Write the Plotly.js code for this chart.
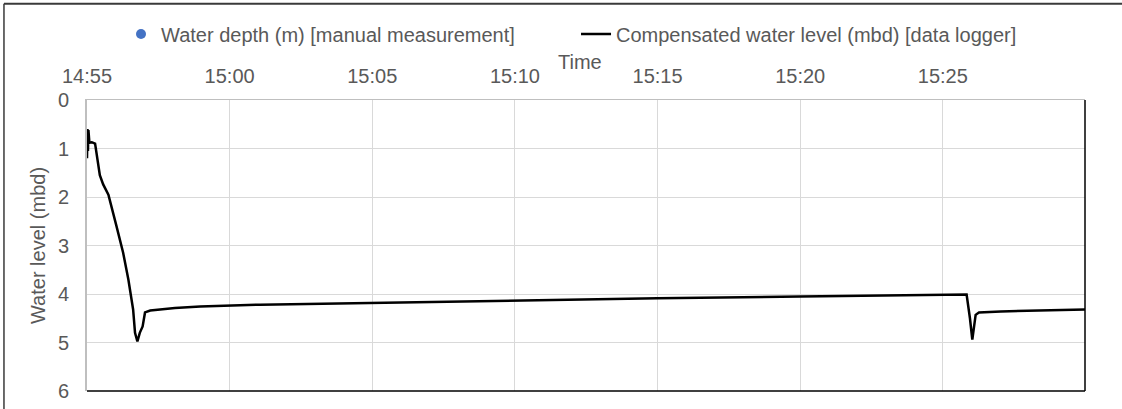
<!DOCTYPE html>
<html>
<head>
<meta charset="utf-8">
<script src="https://cdn.plot.ly/plotly-3.0.1.min.js"></script>
<style>html,body{margin:0;padding:0;background:#fff;}#chart{width:1122px;height:409px;}</style>
</head>
<body>
<div id="chart"></div>
<script>
var day = '2024-01-01 ';
var loggerTimes = ['14:55:00','14:55:01','14:55:02','14:55:03','14:55:05','14:55:10','14:55:17','14:55:27','14:55:34','14:55:45','14:56:02','14:56:16','14:56:27','14:56:37','14:56:41','14:56:46','14:56:51','14:56:57','14:57:02','14:57:13','14:58:05','14:58:58','15:01:04','15:05:00','15:10:00','15:15:00','15:20:00','15:25:00','15:25:50','15:25:57','15:26:02','15:26:09','15:26:16','15:27:02','15:29:59'];
var loggerLevel = [1.20,0.60,1.05,0.62,0.88,0.87,0.90,1.55,1.74,1.95,2.60,3.15,3.70,4.32,4.80,4.98,4.80,4.67,4.38,4.34,4.29,4.26,4.22,4.18,4.13,4.09,4.05,4.02,4.01,4.50,4.94,4.43,4.38,4.36,4.32];
var manualTimes = [null];
var manualDepth = [null];
var xRange = ['14:55:00','15:29:59'];
var yTicks = [0,1,2,3,4,5,6];

var font = {family:'"Liberation Sans", Arial, sans-serif', size:20, color:'#595959'};

var traces = [
  {type:'scatter', mode:'markers', name:'Water depth (m) [manual measurement]',
   x: manualTimes.map(function(t){return t === null ? null : day+t;}), y: manualDepth,
   marker:{color:'#4472C4', size:10}, showlegend:true},
  {type:'scatter', mode:'lines', name:'Compensated water level (mbd) [data logger]',
   x: loggerTimes.map(function(t){return day+t;}), y: loggerLevel,
   line:{color:'#000000', width:2.5}}
];

var layout = {
  width:1122, height:409,
  margin:{l:87, r:37, t:100, b:18},
  paper_bgcolor:'#ffffff', plot_bgcolor:'#ffffff',
  font: font,
  showlegend:true,
  legend:{orientation:'h', x:0.49, xanchor:'center', y:1.227, yanchor:'middle', font:font, bgcolor:'rgba(0,0,0,0)',
    entrywidth:410, entrywidthmode:'pixels'},
  xaxis:{type:'date', side:'top', range:[day+xRange[0], day+xRange[1]],
    dtick:300000, tick0: day+xRange[0], tickformat:'%H:%M',
    showgrid:true, gridcolor:'#d9d9d9', gridwidth:1,
    showline:true, linecolor:'#bfbfbf', linewidth:1.5,
    ticks:'', ticklabelstandoff:8, tickfont:font, zeroline:false},
  yaxis:{range:[6,0], tickvals:yTicks, showgrid:true, gridcolor:'#d9d9d9', gridwidth:1,
    showline:true, linecolor:'#bfbfbf', linewidth:2,
    ticks:'', ticklabelstandoff:12, tickfont:font, zeroline:false,
    title:{text:'Water level (mbd)', font:font, standoff:7}},
  annotations:[
    {text:'Time', xref:'paper', yref:'paper', x:0.494, y:1.13, xanchor:'center', yanchor:'middle', showarrow:false, font:font}
  ],
  shapes:[
    {type:'line', xref:'paper', yref:'paper', x0:1, x1:1, y0:0, y1:1, line:{color:'#000', width:1.5}},
    {type:'line', xref:'paper', yref:'paper', x0:0, x1:1, y0:0, y1:0, line:{color:'#000', width:1.5}},
    {type:'line', xref:'paper', yref:'paper', x0:-0.0832, x1:-0.0832, y0:-0.3, y1:1.331, line:{color:'#3a3a3a', width:1.5}},
    {type:'line', xref:'paper', yref:'paper', x0:-0.0832, x1:1.2, y0:1.331, y1:1.331, line:{color:'#3a3a3a', width:2}}
  ]
};

Plotly.newPlot('chart', traces, layout, {displayModeBar:false, staticPlot:true});
</script>
</body>
</html>
